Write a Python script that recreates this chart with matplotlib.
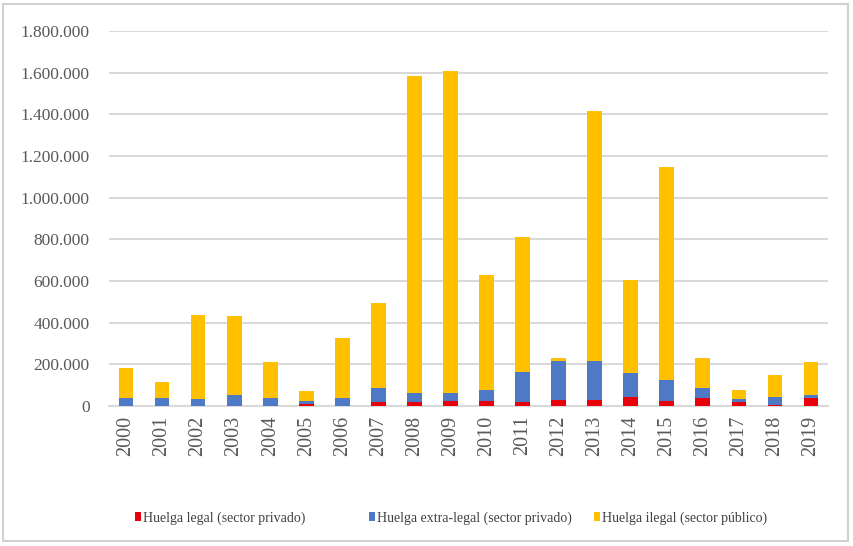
import matplotlib
matplotlib.use("Agg")
import matplotlib.pyplot as plt
from matplotlib.patches import Patch, Rectangle
from matplotlib.ticker import FuncFormatter, MultipleLocator
import numpy as np

years = [str(y) for y in range(2000, 2020)]
# Huelga legal (sector privado)
legal_priv = [2000, 2000, 2000, 2000, 2000, 8000, 2000, 19000, 19000, 24000,
              24000, 19000, 29000, 29000, 43000, 24000, 37000, 19000, 5000, 37000]
# Huelga extra-legal (sector privado)
extra_priv = [38000, 38000, 30000, 51000, 38000, 16000, 38000, 69000, 45000, 38000,
              51000, 144000, 187000, 187000, 114000, 101000, 51000, 16000, 40000, 16000]
# Huelga ilegal (sector público)
ilegal_pub = [144000, 75000, 403000, 378000, 173000, 48000, 288000, 408000, 1518000, 1546000,
              552000, 650000, 14000, 1200000, 446000, 1022000, 142000, 42000, 102000, 160000]

labels = ["Huelga legal (sector privado)",
          "Huelga extra-legal (sector privado)",
          "Huelga ilegal (sector público)"]
colors = ["#E8000A", "#4E79C4", "#FFC000"]

plt.rcParams['font.family'] = ['Liberation Serif', 'DejaVu Serif']

fig = plt.figure(figsize=(8.54, 5.46), dpi=100)
ax = fig.add_axes([109/854, 1-406/546, (828-109)/854, (406-31)/546])

x = np.arange(len(years))
w = 0.41
a = np.array(legal_priv)
b = np.array(extra_priv)
c = np.array(ilegal_pub)
ax.bar(x, a, w, color=colors[0], zorder=3)
ax.bar(x, b, w, bottom=a, color=colors[1], zorder=3)
ax.bar(x, c, w, bottom=a + b, color=colors[2], zorder=3)

ax.set_xlim(-0.47, len(years) - 0.53)
ax.set_ylim(0, 1800000)
ax.yaxis.set_major_locator(MultipleLocator(200000))
ax.yaxis.set_major_formatter(FuncFormatter(lambda v, p: f"{int(v):,}".replace(",", ".")))
ax.grid(axis='y', color='#d9d9d9', linewidth=1.5, zorder=0)
ax.set_axisbelow(True)
for s in ['top', 'right', 'left']:
    ax.spines[s].set_visible(False)
ax.spines['bottom'].set_color('#d9d9d9')
ax.spines['bottom'].set_linewidth(1.5)
ax.set_xticks(x)
ax.set_xticklabels(years, rotation=90, fontsize=14.5, color='#595959')
ax.tick_params(axis='x', length=0, pad=7)
ax.tick_params(axis='y', length=0, pad=14, labelsize=12.5, labelcolor='#595959')

legend_x = [135, 369, 594]
for lab, col, lx in zip(labels, colors, legend_x):
    fig.legend(handles=[Patch(facecolor=col, edgecolor='none')], labels=[lab],
               loc='center left', bbox_to_anchor=(lx/854, 1-518/546),
               frameon=False, prop={'family': ['Liberation Serif'], 'size': 10},
               handlelength=0.4, handleheight=0.6,
               handletextpad=0.15, borderpad=0, borderaxespad=0,
               labelcolor='#404040')

fig.patches.append(Rectangle((0.003, 0.01), 0.990, 0.982, transform=fig.transFigure,
                             fill=False, edgecolor='#d0d0d0', linewidth=1.5))

fig.savefig("out.png", dpi=100)
